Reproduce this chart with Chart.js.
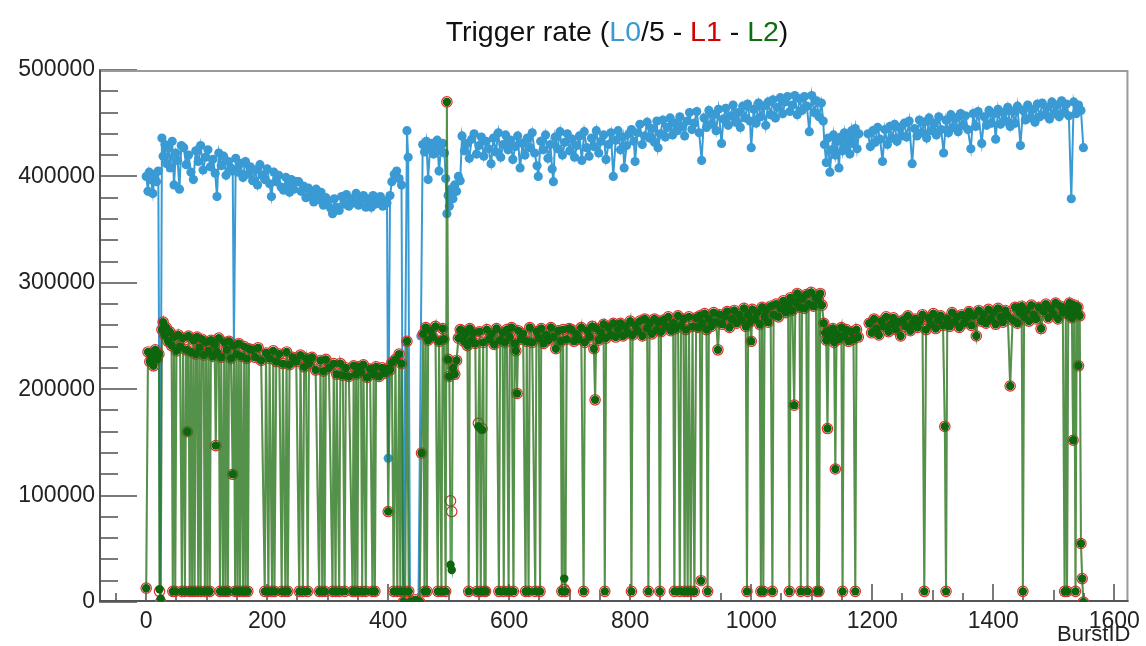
<!DOCTYPE html>
<html>
<head>
<meta charset="utf-8">
<title>Trigger rate</title>
<script src="https://cdn.jsdelivr.net/npm/chart.js@4.4.1/dist/chart.umd.min.js"></script>
<style>
  html, body { margin: 0; padding: 0; background: #fff; }
  #wrap { width: 1146px; height: 646px; }
</style>
</head>
<body>
<div id="wrap"><canvas id="rateChart" width="1146" height="646"></canvas></div>
<script>
/* Trigger rate per burst. Rates are in thousands (x1000 when plotted).
   null = no bursts recorded (gap around 1185) */

// L0/5 : burst ids and rate
const l0Bursts = [
  0, 3, 5, 8, 11, 14, 17, 20, 23,
  26, 28, 31, 34, 37, 40, 43, 46, 49, 52, 55, 58,
  62, 66, 70, 74, 78, 82, 86, 90, 94, 98, 102, 106, 110, 114, 117, 120, 124, 128, 132, 136, 140, 143, 145,
  148, 152, 156, 160, 164, 168, 172, 176, 180, 184, 188, 192, 196, 200, 204, 207, 211, 215, 219, 223, 227, 231, 235, 237, 240, 244, 248,
  252, 256, 260, 264, 268, 270, 273, 277, 281, 285, 286, 289, 293, 297, 301, 305, 308, 311, 315, 319, 323, 327,
  331, 335, 339, 343, 347, 351, 355, 359, 363, 367, 371, 372, 375, 379, 383, 387, 391, 395, 398,
  400, 403, 406, 410, 414, 418, 422, 425, 431, 433, 436, 440, 445, 450, 454,
  457, 460, 463, 466, 469, 472, 475, 478, 481, 484, 487, 490, 493, 495,
  497, 499, 501, 504, 507, 510, 513, 516, 519,
  522, 526, 530, 534, 538, 542, 546, 550, 554, 558, 562, 566, 570, 574, 578, 582, 586, 590, 594, 598,
  602, 606, 610, 614, 618, 622, 626, 630, 634, 638, 642, 646, 648, 652, 656, 660, 664, 668, 671, 673,
  676, 680, 684, 688, 692, 696, 700, 704, 708, 712, 716, 720, 724, 728, 732, 736, 740, 744, 748, 752,
  756, 760, 764, 768, 772, 776, 780, 784, 788, 790, 794, 798,
  802, 806, 808, 812, 816, 820, 824, 828, 832, 836, 840, 844, 846, 850, 854, 858, 862, 866, 870, 874,
  878, 882, 886, 890, 894, 898, 902, 906, 910, 914, 918, 922, 926, 930, 934, 938, 942, 946, 951, 954,
  958, 962, 966, 970, 974, 978, 982, 986, 990, 994, 998, 1000, 1004, 1008, 1012, 1016, 1020, 1024, 1028, 1032,
  1036, 1040, 1044, 1048, 1052, 1056, 1060, 1064, 1068, 1072, 1076, 1080, 1084, 1088, 1092, 1096, 1100, 1104, 1108, 1112,
  1116, 1119,
  1121, 1124, 1127, 1130, 1133, 1136, 1139, 1142, 1145, 1148, 1151, 1154, 1157, 1160, 1163, 1166, 1169, 1172, 1175, 1178,
  1186,
  1193, 1197, 1201, 1205, 1209, 1213, 1217, 1221, 1225, 1229, 1233, 1237, 1241, 1245, 1249, 1253, 1257, 1261, 1266, 1270,
  1274, 1278, 1282, 1286, 1290, 1294, 1298, 1302, 1306, 1310, 1314, 1318, 1322, 1326, 1330, 1334, 1338, 1342, 1346, 1350,
  1354, 1358, 1363, 1367, 1371, 1375, 1381, 1385, 1389, 1393, 1397, 1401, 1404, 1408, 1412, 1416, 1420, 1424, 1428, 1432,
  1436, 1440, 1445, 1449, 1453, 1457, 1461, 1465, 1469, 1473, 1477, 1481, 1485, 1489, 1493, 1497, 1501, 1505, 1509, 1513,
  1517, 1521, 1525, 1529, 1533, 1537, 1541, 1545, 1549
];
const l0Rate = [
  400, 386, 404, 397, 384, 402, 395, 405, 0,
  436, 419, 430, 412, 427, 408, 433, 392, 422, 415, 388, 429,
  427, 411, 420, 404, 397, 424, 414, 429, 406, 418, 425, 409, 416, 403, 381, 422, 410, 419, 401, 414, 408, 405, 240,
  417, 404, 412, 399, 414, 402, 409, 396, 406, 392, 411, 401, 397, 407, 393, 381, 404, 395, 401, 390, 387, 399, 392, 385, 397, 388, 395,
  395, 386, 391, 380, 389, 381, 386, 376, 388, 382, 378, 385, 373, 380, 377, 370, 365, 379, 371, 368, 381, 374,
  383, 372, 379, 375, 384, 373, 378, 382, 371, 379, 376, 371, 382, 374, 378, 381, 372, 377, 375,
  135, 382, 395, 402, 405, 398, 392, 0, 443, 418, 0, 0, 0, 0, 250,
  430, 423, 433, 397, 426, 431, 421, 429, 434, 405, 424, 431, 422, 398,
  365, 382, 372, 388, 379, 392, 386, 400, 396,
  438, 424, 431, 417, 435, 440, 421, 429, 437, 419, 433, 426, 412, 436, 423, 441, 418, 430, 439, 425,
  434, 416, 428, 438, 408, 431, 420, 436, 427, 441, 422, 410, 400, 433, 425, 439, 417, 430, 407, 395,
  437, 426, 442, 420, 432, 440, 424, 435, 418, 429, 438, 415, 442, 427, 419, 436, 428, 443, 422, 433,
  439, 416, 430, 441, 400, 434, 443, 425, 437, 408, 429, 440,
  444, 433, 414, 441, 449, 430, 438, 451, 436, 445, 432, 452, 427, 440, 453, 437, 446, 455, 439, 450,
  443, 456, 447, 438, 452, 460, 444, 450, 461, 441, 415, 455, 446, 462, 449, 458, 443, 463, 431, 454,
  464, 448, 457, 467, 451, 460, 446, 466, 455, 468, 452, 427, 463, 450, 469, 456, 466, 448, 470, 458,
  472, 455, 465, 474, 459, 470, 475, 461, 467, 476, 458, 473, 462, 475, 466, 442, 476, 460, 471, 456,
  469, 452,
  430, 413, 436, 404, 425, 439, 420, 433, 408, 437, 424, 441, 428, 436, 421, 443, 431, 445, 426, 440,
  null,
  440, 428, 443, 432, 446, 435, 414, 444, 430, 447, 436, 449, 433, 446, 438, 450, 437, 452, 412, 445,
  438, 453, 441, 451, 436, 455, 443, 450, 439, 456, 444, 422, 453, 441, 458, 446, 455, 442, 459, 448,
  457, 444, 426, 459, 447, 461, 431, 456, 448, 462, 450, 459, 435, 463, 449, 460, 452, 465, 447, 461,
  450, 466, 429, 462, 453, 467, 455, 463, 451, 468, 456, 469, 458, 465, 454, 470, 459, 467, 456, 471,
  460, 468, 457, 379, 470, 459, 467, 462, 427
];

// L1 and L2 share burst ids
const l12Bursts = [
  0, 3, 6, 9, 12, 15, 18, 21, 22, 24, 26, 28, 30, 33, 36, 39, 42, 44, 46, 48, 50, 53, 56, 59,
  61, 64, 66, 68, 70, 72, 74, 76, 78, 80, 82, 84, 86, 88, 90, 92, 95, 97, 99, 101, 103,
  105, 107, 110, 113, 115, 117, 120, 122, 124, 127, 129, 131, 133, 135, 137, 140, 143, 145, 147, 149, 151,
  153, 155, 157, 160, 162, 164, 166, 168, 170,
  175, 180, 185, 190, 196, 198, 202, 204, 208, 210, 212, 215, 220, 224, 226, 230, 232, 234, 237, 242, 248,
  253, 255, 259, 261, 264, 267, 269, 274, 280, 286, 288, 291, 293, 295, 297, 302, 308, 310, 313, 315, 319,
  321, 325, 328, 330, 335, 341, 343, 345, 347, 349, 351, 355, 357, 359, 363, 365, 370, 374, 376, 378, 380,
  385, 390, 395, 398,
  400, 403, 406, 409, 412, 415, 418, 420, 422, 425, 428, 431, 434, 437, 441, 445, 449, 452, 455, 458, 460,
  462, 464, 466, 470, 474, 478, 482, 484, 488, 490, 492, 495, 497, 499, 501, 503, 505, 507, 510, 513, 516,
  519,
  522, 525, 528, 531, 533, 535, 538, 541, 544, 547, 549, 551, 553, 555, 557, 559, 561, 563, 567, 571, 575,
  579, 583, 585, 589, 591, 593, 596, 599, 601, 604, 607, 609, 611, 613, 615, 619, 623, 627, 629, 632, 634,
  638, 643, 645, 649, 651, 653, 657, 661, 665, 669, 673, 677, 681, 685, 687, 689, 691, 693, 695, 699,
  703, 707, 711, 715, 719, 723, 725, 729, 733, 737, 740, 742, 744, 748, 752, 756, 758, 760, 764, 768, 772,
  776, 780, 784, 788, 792, 796, 800, 802, 804, 808, 812, 816, 820, 824, 828, 830, 832, 836, 840, 844, 847,
  849, 851, 855, 859, 863, 867, 871, 873, 875, 879, 882, 884, 888, 890, 892, 895, 897, 900, 903, 906, 909,
  912, 915, 917, 919, 923, 926, 928, 930, 934, 938, 942, 945, 948, 952, 956, 960, 964, 968, 972, 976, 980,
  984, 988, 991, 993, 995, 998, 1000, 1002, 1006, 1010, 1014, 1016, 1018, 1020, 1022, 1024, 1028, 1032, 1035, 1037, 1041,
  1045, 1049, 1053, 1057, 1061, 1063, 1065, 1068, 1071, 1073, 1076, 1080, 1082, 1084, 1088, 1091, 1093, 1095, 1099, 1103, 1107,
  1109, 1111, 1112, 1114, 1117, 1120, 1122, 1124, 1126, 1128, 1131, 1135, 1137, 1139, 1141, 1145, 1149, 1151, 1153, 1157, 1161,
  1165, 1169, 1172, 1174, 1177,
  1186,
  1195, 1199, 1203, 1207, 1211, 1215, 1219, 1223, 1227, 1231, 1235, 1239, 1243, 1247, 1251, 1255, 1259, 1263, 1267, 1271, 1275,
  1279, 1283, 1286, 1289, 1293, 1297, 1301, 1305, 1309, 1313, 1317, 1320, 1322, 1324, 1328, 1332, 1336, 1340, 1344, 1348, 1352,
  1356, 1360, 1364, 1368, 1372, 1376, 1380, 1384, 1388, 1392, 1396, 1400, 1404, 1408, 1412, 1416, 1420, 1424, 1428, 1432, 1436,
  1440, 1444, 1447, 1449, 1451, 1455, 1459, 1463, 1467, 1471, 1475, 1479, 1483, 1487, 1491, 1495, 1499, 1503, 1507, 1511, 1515,
  1518, 1520, 1522, 1524, 1526, 1528, 1530, 1532, 1534, 1536, 1538, 1540, 1541, 1543, 1545, 1547, 1549
];
const l1Rate = [
  13, 235, 226, 231, 222, 237, 228, 233, 10, 0, 256, 263, 251, 258, 245, 254, 241, 10, 249, 10, 236, 251, 240, 10,
  248, 10, 237, 160, 250, 10, 235, 10, 246, 10, 233, 249, 10, 239, 10, 247, 232, 10, 244, 10, 236,
  10, 246, 231, 242, 147, 235, 248, 10, 230, 10, 244, 10, 237, 10, 245, 229, 120, 241, 10, 233, 10,
  243, 10, 231, 10, 240, 10, 229, 10, 238,
  237, 230, 239, 227, 10, 234, 10, 229, 10, 236, 10, 226, 233, 10, 224, 10, 235, 10, 223, 230, 226,
  10, 232, 10, 221, 229, 10, 224, 230, 218, 10, 227, 10, 217, 10, 228, 220, 10, 224, 10, 214, 10,
  224, 213, 10, 220, 212, 10, 222, 10, 214, 10, 221, 216, 10, 223, 10, 211, 219, 10, 214, 10, 221,
  212, 220, 215, 219,
  85, 218, 225, 10, 228, 10, 233, 10, 224, 0, 10, 245, 10, 0, 0, 2, 0, 0, 140, 252, 10,
  258, 10, 246, 255, 249, 259, 10, 245, 10, 257, 247, 10, 470, 228, 212, 95, 85, 220, 214, 227, 248,
  256,
  255, 245, 252, 241, 10, 257, 246, 253, 243, 10, 168, 254, 10, 163, 244, 10, 10, 256, 247, 252, 242,
  257, 10, 246, 253, 10, 244, 256, 10, 249, 258, 10, 243, 236, 196, 255, 247, 252, 10, 245, 10, 258,
  244, 10, 254, 248, 10, 257, 243, 251, 246, 258, 249, 238, 255, 245, 10, 256, 12, 10, 247, 257,
  256, 245, 252, 247, 258, 10, 244, 255, 249, 259, 238, 190, 257, 246, 253, 261, 10, 248, 258, 251, 262,
  249, 256, 262, 250, 259, 253, 264, 10, 251, 260, 255, 264, 250, 266, 257, 10, 262, 252, 266, 256, 263,
  10, 254, 265, 259, 268, 255, 262, 10, 257, 269, 10, 260, 266, 10, 256, 10, 268, 10, 259, 10, 267,
  258, 269, 20, 262, 271, 256, 10, 266, 259, 272, 263, 237, 270, 261, 268, 273, 258, 266, 274, 262, 270,
  265, 276, 259, 10, 270, 263, 245, 275, 266, 272, 261, 10, 277, 10, 268, 274, 263, 278, 10, 270, 280,
  268, 276, 283, 272, 279, 10, 286, 274, 185, 282, 290, 277, 10, 285, 276, 289, 10, 280, 291, 278, 286,
  10, 284, 10, 290, 279, 262, 253, 246, 163, 255, 249, 257, 244, 125, 252, 247, 258, 10, 250, 256, 245,
  254, 247, 10, 256, 249,
  null,
  262, 253, 266, 257, 251, 264, 259, 268, 254, 261, 267, 256, 263, 250, 265, 259, 269, 255, 262, 266, 258,
  264, 270, 10, 256, 267, 261, 271, 257, 265, 269, 260, 165, 10, 266, 259, 272, 263, 268, 258, 270, 262,
  267, 273, 260, 269, 250, 274, 264, 270, 262, 275, 266, 272, 261, 276, 268, 263, 274, 269, 203, 265, 277,
  262, 272, 278, 10, 268, 274, 264, 279, 270, 266, 277, 257, 273, 280, 267, 276, 271, 281, 266, 278, 272,
  10, 276, 10, 270, 281, 274, 267, 152, 279, 10, 272, 277, 222, 269, 55, 22, 0
];
const l2Rate = [
  13, 235, 226, 231, 222, 237, 228, 233, 12, 3, 256, 263, 251, 258, 245, 254, 241, 10, 249, 10, 236, 251, 240, 10,
  248, 10, 237, 160, 250, 10, 235, 10, 246, 10, 233, 249, 10, 239, 10, 247, 232, 10, 244, 10, 236,
  10, 246, 231, 242, 147, 235, 248, 10, 230, 10, 244, 10, 237, 10, 245, 229, 120, 241, 10, 233, 10,
  243, 10, 231, 10, 240, 10, 229, 10, 238,
  237, 230, 239, 227, 10, 234, 10, 229, 10, 236, 10, 226, 233, 10, 224, 10, 235, 10, 223, 230, 226,
  10, 232, 10, 221, 229, 10, 224, 230, 218, 10, 227, 10, 217, 10, 228, 220, 10, 224, 10, 214, 10,
  224, 213, 10, 220, 212, 10, 222, 10, 214, 10, 221, 216, 10, 223, 10, 211, 219, 10, 214, 10, 221,
  212, 220, 215, 219,
  85, 218, 225, 10, 228, 10, 233, 10, 224, 0, 10, 245, 10, 0, 0, 2, 0, 0, 140, 252, 10,
  258, 10, 246, 255, 249, 259, 10, 245, 10, 257, 247, 10, 470, 228, 212, 35, 30, 220, 214, 227, 248,
  256,
  255, 245, 252, 241, 10, 257, 246, 253, 243, 10, 165, 254, 10, 162, 244, 10, 10, 256, 247, 252, 242,
  257, 10, 246, 253, 10, 244, 256, 10, 249, 258, 10, 243, 236, 196, 255, 247, 252, 10, 245, 10, 258,
  244, 10, 254, 248, 10, 257, 243, 251, 246, 258, 249, 238, 255, 245, 10, 256, 22, 10, 247, 257,
  256, 245, 252, 247, 258, 10, 244, 255, 249, 259, 238, 190, 257, 246, 253, 261, 10, 248, 258, 251, 262,
  249, 256, 262, 250, 259, 253, 264, 10, 251, 260, 255, 264, 250, 266, 257, 10, 262, 252, 266, 256, 263,
  10, 254, 265, 259, 268, 255, 262, 10, 257, 269, 10, 260, 266, 10, 256, 10, 268, 10, 259, 10, 267,
  258, 269, 20, 262, 271, 256, 10, 266, 259, 272, 263, 237, 270, 261, 268, 273, 258, 266, 274, 262, 270,
  265, 276, 259, 10, 270, 263, 245, 275, 266, 272, 261, 10, 277, 10, 268, 274, 263, 278, 10, 270, 280,
  268, 276, 283, 272, 279, 10, 286, 274, 185, 282, 290, 277, 10, 285, 276, 289, 10, 280, 291, 278, 286,
  10, 284, 10, 290, 279, 262, 253, 246, 163, 255, 249, 257, 244, 125, 252, 247, 258, 10, 250, 256, 245,
  254, 247, 10, 256, 249,
  null,
  262, 253, 266, 257, 251, 264, 259, 268, 254, 261, 267, 256, 263, 250, 265, 259, 269, 255, 262, 266, 258,
  264, 270, 10, 256, 267, 261, 271, 257, 265, 269, 260, 165, 10, 266, 259, 272, 263, 268, 258, 270, 262,
  267, 273, 260, 269, 250, 274, 264, 270, 262, 275, 266, 272, 261, 276, 268, 263, 274, 269, 203, 265, 277,
  262, 272, 278, 10, 268, 274, 264, 279, 270, 266, 277, 257, 273, 280, 267, 276, 271, 281, 266, 278, 272,
  10, 276, 10, 270, 281, 274, 267, 152, 279, 10, 272, 277, 222, 269, 55, 22, 0
];

// axis ticks
const yLabelStep = 100000;
const yMinorStep = 20000;
const xLabelStep = 200;
const xMinorStep = 50;

const TITLE_PARTS = [
  { text: "Trigger rate (", color: "#111" },
  { text: "L0", color: "#3a9ad4" },
  { text: "/5 - ", color: "#111" },
  { text: "L1", color: "#d40000" },
  { text: " - ", color: "#111" },
  { text: "L2", color: "#0f6f0f" },
  { text: ")", color: "#111" },
];
const FONT = "'Liberation Sans', Arial, sans-serif";

if (l0Bursts.length !== l0Rate.length || l12Bursts.length !== l1Rate.length || l12Bursts.length !== l2Rate.length) {
  console.warn("length mismatch", l0Bursts.length, l0Rate.length, l12Bursts.length, l1Rate.length, l2Rate.length);
}

const toPoints = (xs, ys) => xs.map((x, i) => ({ x: x, y: ys[i] === null ? null : ys[i] * 1000 }));

// ROOT style frame: ticks pointing inside the box
const rootFrame = {
  id: "rootFrame",
  beforeDatasetsDraw(chart) {
    const { ctx, chartArea: a, scales: { x, y } } = chart;
    ctx.save();
    ctx.lineWidth = 2;
    ctx.strokeStyle = "#7a7a7a";
    for (let v = 0; v <= y.max; v += yMinorStep) {
      const py = Math.round(y.getPixelForValue(v));
      const len = v % yLabelStep === 0 ? 38 : 19;
      ctx.beginPath(); ctx.moveTo(a.left, py); ctx.lineTo(a.left + len, py); ctx.stroke();
    }
    for (let v = Math.ceil(x.min / xMinorStep) * xMinorStep; v <= x.max; v += xMinorStep) {
      const px = Math.round(x.getPixelForValue(v));
      const len = v % xLabelStep === 0 ? 18 : (v % 100 === 0 ? 12 : 9);
      ctx.beginPath(); ctx.moveTo(px, a.bottom); ctx.lineTo(px, a.bottom - len); ctx.stroke();
    }
    ctx.strokeStyle = "#9a9a9a";
    ctx.beginPath();
    ctx.moveTo(a.left, a.top + 1); ctx.lineTo(a.right - 1, a.top + 1); ctx.lineTo(a.right - 1, a.bottom);
    ctx.stroke();
    ctx.strokeStyle = "#555";
    ctx.beginPath();
    ctx.moveTo(a.left + 1, a.top); ctx.lineTo(a.left + 1, a.bottom - 1); ctx.lineTo(a.right, a.bottom - 1);
    ctx.stroke();
    ctx.restore();
  },
  afterDraw(chart) {
    const { ctx, chartArea: a } = chart;
    ctx.save();
    ctx.font = "28.5px " + FONT;
    ctx.textBaseline = "alphabetic";
    const total = TITLE_PARTS.reduce((w, p) => w + ctx.measureText(p.text).width, 0);
    let tx = 617 - total / 2;
    TITLE_PARTS.forEach((p) => {
      ctx.fillStyle = p.color;
      ctx.fillText(p.text, tx, 41);
      tx += ctx.measureText(p.text).width;
    });
    ctx.font = "22px " + FONT;
    ctx.fillStyle = "#222";
    ctx.textAlign = "right";
    ctx.fillText("BurstID", a.right + 2, 641);
    ctx.restore();
  },
};

new Chart(document.getElementById("rateChart").getContext("2d"), {
  type: "line",
  data: {
    datasets: [
      {
        label: "L2",
        data: toPoints(l12Bursts, l2Rate),
        borderColor: "rgba(30,125,30,0.72)",
        borderWidth: 2,
        pointRadius: 4.2,
        pointBackgroundColor: "#0d650d",
        pointBorderColor: "#0d650d",
        pointBorderWidth: 0,
        order: 0,
      },
      {
        label: "L1",
        data: toPoints(l12Bursts, l1Rate),
        borderColor: "rgba(150,80,40,0.3)",
        borderWidth: 2,
        pointRadius: 5.2,
        pointBackgroundColor: "rgba(0,0,0,0)",
        pointBorderColor: "#e03030",
        pointBorderWidth: 1.2,
        order: 1,
      },
      {
        label: "L0/5",
        data: toPoints(l0Bursts, l0Rate),
        borderColor: "#3a9ad4",
        borderWidth: 2,
        pointRadius: 4.6,
        pointBackgroundColor: "#3a9ad4",
        pointBorderColor: "#3a9ad4",
        pointBorderWidth: 0,
        order: 2,
      },
    ],
  },
  options: {
    responsive: false,
    animation: false,
    devicePixelRatio: 1,
    spanGaps: false,
    layout: { padding: { top: 70, right: 13, left: 0, bottom: 0 } },
    elements: { line: { tension: 0 } },
    plugins: { legend: { display: false }, tooltip: { enabled: false }, title: { display: false } },
    scales: {
      x: {
        type: "linear",
        min: -78,
        max: 1623.5,
        grid: { display: false, drawTicks: false },
        border: { display: false },
        ticks: {
          stepSize: xLabelStep,
          includeBounds: false,
          autoSkip: false,
          maxRotation: 0,
          padding: 6,
          color: "#222",
          font: { family: FONT, size: 23 },
          callback: (v) => String(v),
        },
        afterFit: (s) => { s.height = 44; },
      },
      y: {
        min: 0,
        max: 500000,
        grid: { display: false, drawTicks: false },
        border: { display: false },
        ticks: {
          stepSize: yLabelStep,
          autoSkip: false,
          padding: 4,
          color: "#222",
          font: { family: FONT, size: 23 },
          callback: (v) => String(v),
        },
        afterFit: (s) => { s.width = 99; },
      },
    },
  },
  plugins: [rootFrame],
});
</script>
</body>
</html>
